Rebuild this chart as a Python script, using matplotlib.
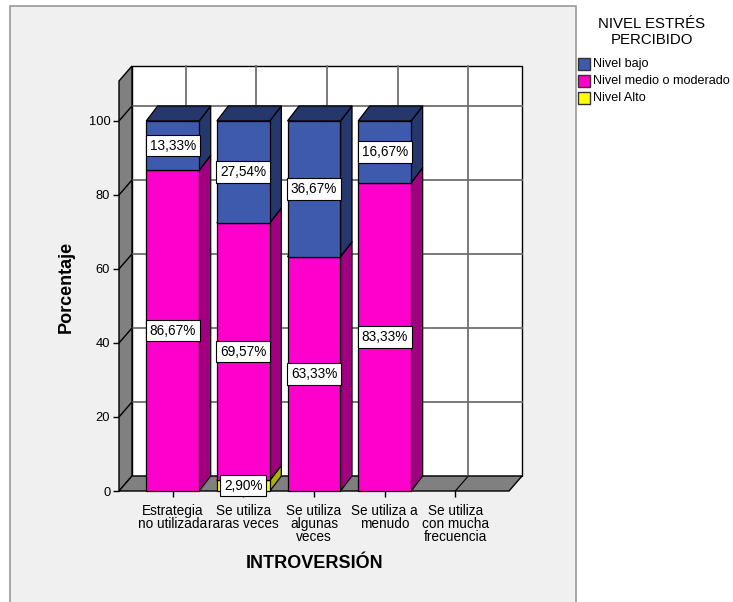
import matplotlib
matplotlib.use('Agg')
import matplotlib.pyplot as plt
from matplotlib.patches import Rectangle, Polygon

categories = ["Estrategia\nno utilizada", "Se utiliza\nraras veces", "Se utiliza\nalgunas\nveces",
              "Se utiliza a\nmenudo", "Se utiliza\ncon mucha\nfrecuencia"]
series_names = ["Nivel bajo", "Nivel medio o moderado", "Nivel Alto"]
nivel_bajo = [13.33, 27.54, 36.67, 16.67, 0]
nivel_medio = [86.67, 69.57, 63.33, 83.33, 0]
nivel_alto = [0, 2.90, 0, 0, 0]
yticks = [0, 20, 40, 60, 80, 100]

front_colors = {"Nivel bajo": "#3E5AAC", "Nivel medio o moderado": "#FF00CC", "Nivel Alto": "#FFFF00"}
side_colors = {"Nivel bajo": "#26376C", "Nivel medio o moderado": "#A0007F", "Nivel Alto": "#B0B000"}

plt.rcParams['font.family'] = ['Liberation Sans', 'DejaVu Sans']

W, H = 733, 602
fig = plt.figure(figsize=(W / 100, H / 100), dpi=100)
fig.patch.set_facecolor('white')
fig.patches.append(Rectangle((10 / W, -0.02), (576 - 10) / W, 1.02 - 6 / H, transform=fig.transFigure,
                             facecolor='#F0F0F0', edgecolor='#9A9A9A', lw=1.2, zorder=-10))

ax = fig.add_axes([119 / W, 1 - 491 / H, 403 / W, 425 / H])
ax.set_zorder(5)
XL, XR = -0.76, 4.76
DX, DY = 0.184, 4.05
YTOP = 110.8
ax.set_xlim(XL, XR + DX)
ax.set_ylim(0, YTOP + DY)
ax.patch.set_visible(False)
for s in ax.spines.values():
    s.set_visible(False)

wall_kw = dict(edgecolor='black', lw=1.0, clip_on=False)
# back wall
ax.add_patch(Rectangle((XL + DX, DY), XR - XL, YTOP, facecolor='white', zorder=1, **wall_kw))
# left wall
ax.add_patch(Polygon([(XL, 0), (XL + DX, DY), (XL + DX, YTOP + DY), (XL, YTOP)],
                     closed=True, facecolor='#808080', zorder=1, **wall_kw))
# floor
ax.add_patch(Polygon([(XL, 0), (XR, 0), (XR + DX, DY), (XL + DX, DY)],
                     closed=True, facecolor='#808080', zorder=1, **wall_kw))
# grid lines
for v in yticks[1:]:
    ax.plot([XL + DX, XR + DX], [v + DY, v + DY], color='#707070', lw=1.3, zorder=2, clip_on=False)
    ax.plot([XL, XL + DX], [v, v + DY], color='black', lw=1.0, zorder=2, clip_on=False)
for i in range(len(categories)):
    ax.plot([i + DX, i + DX], [DY, YTOP + DY], color='#707070', lw=1.3, zorder=2, clip_on=False)
    ax.plot([i, i + DX], [0, DY], color='black', lw=0.8, zorder=2, clip_on=False)

# bars
BW = 0.75
BDX, BDY = 0.163, 4.05
z = 3
for i in range(len(categories)):
    bottom = 0.0
    for name, vals in (("Nivel Alto", nivel_alto), ("Nivel medio o moderado", nivel_medio), ("Nivel bajo", nivel_bajo)):
        v = vals[i]
        if v <= 0:
            continue
        x0, x1 = i - BW / 2, i + BW / 2
        top = bottom + v
        ek = dict(edgecolor='black', lw=0.9, clip_on=False)
        ax.add_patch(Polygon([(x1, bottom), (x1 + BDX, bottom + BDY), (x1 + BDX, top + BDY), (x1, top)],
                             closed=True, facecolor=side_colors[name], zorder=z, **ek))
        ax.add_patch(Polygon([(x0, top), (x1, top), (x1 + BDX, top + BDY), (x0 + BDX, top + BDY)],
                             closed=True, facecolor=side_colors[name], zorder=z, **ek))
        ax.add_patch(Rectangle((x0, bottom), BW, v, facecolor=front_colors[name], zorder=z + 0.5, **ek))
        ax.text(i, bottom + v / 2, ("%.2f" % v).replace('.', ',') + '%', ha='center', va='center',
                fontsize=9.8, zorder=20,
                bbox=dict(boxstyle='square,pad=0.28', facecolor='white', edgecolor='black', lw=0.8))
        bottom = top
        z += 1

ax.set_yticks(yticks)
ax.set_yticklabels([str(t) for t in yticks], fontsize=9.3)
ax.set_xticks(range(len(categories)))
ax.set_xticklabels(categories, fontsize=9.8)
for lbl in ax.get_xticklabels():
    lbl.set_linespacing(0.92)
ax.tick_params(axis='both', length=4.3, width=1.0, color='black', direction='out')
ax.tick_params(axis='y', pad=2)
ax.tick_params(axis='x', pad=5)

fig.text(66 / W, 1 - 287 / H, "Porcentaje", rotation=90, ha='center', va='center',
         fontsize=13, fontweight='bold')
fig.text(315 / W, 1 - 564 / H, "INTROVERSIÓN", ha='center', va='center', fontsize=13, fontweight='bold')

# legend
fig.text(652 / W, 1 - 32 / H, "NIVEL ESTRÉS\nPERCIBIDO", ha='center', va='center', fontsize=10.8,
         linespacing=1.1)
for k, name in enumerate(series_names):
    yc = 64 + 17 * k
    fig.patches.append(Rectangle((578 / W, 1 - (yc + 6) / H), 12 / W, 12 / H, transform=fig.transFigure,
                                 facecolor=front_colors[name], edgecolor='#333333', lw=1.0))
    fig.text(593 / W, 1 - yc / H, name, ha='left', va='center', fontsize=9.1)

fig.savefig('out.png', dpi=100)
